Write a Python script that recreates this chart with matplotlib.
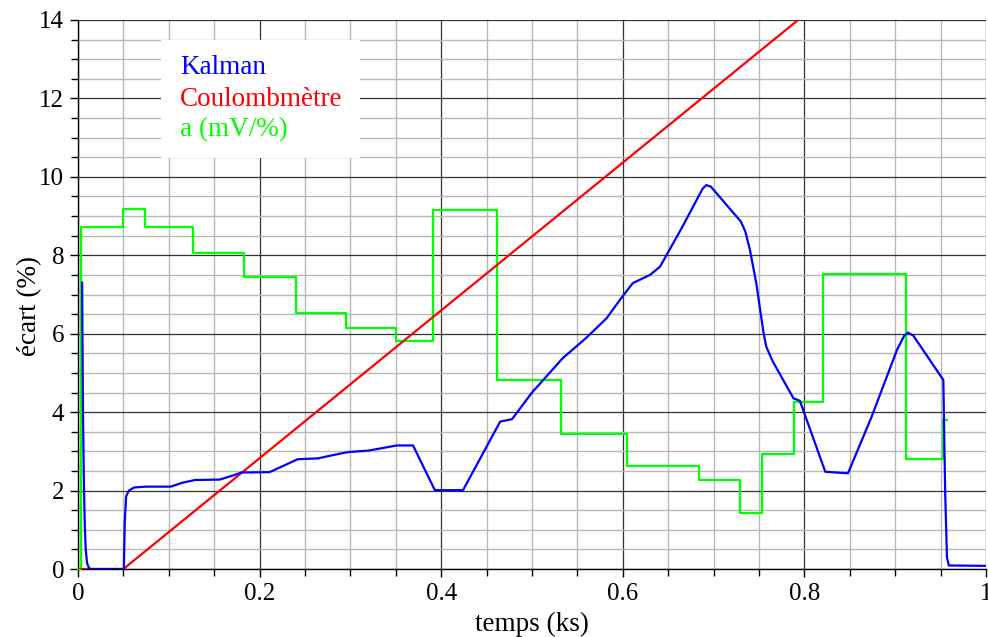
import matplotlib
matplotlib.use("Agg")
import matplotlib.pyplot as plt
from matplotlib.patches import Rectangle
from matplotlib.ticker import MultipleLocator

# ---- data ----
kalman_t = [0.0045, 0.0055, 0.0065, 0.0075, 0.0085, 0.010, 0.012, 0.014, 0.0505, 0.0515, 0.053,
            0.056, 0.062, 0.075, 0.102, 0.115, 0.129, 0.156, 0.170, 0.180, 0.211, 0.228,
            0.242, 0.264, 0.280, 0.297, 0.320, 0.351, 0.369, 0.393, 0.424, 0.465, 0.478,
            0.500, 0.534, 0.560, 0.582, 0.598, 0.611, 0.630, 0.641, 0.665, 0.688, 0.692,
            0.697, 0.730, 0.735, 0.740, 0.747, 0.755, 0.758, 0.765, 0.788, 0.795, 0.823,
            0.848, 0.874, 0.902, 0.910, 0.914, 0.920, 0.953, 0.955, 0.957, 0.959, 1.0]
kalman_v = [7.3, 4.0, 2.2, 1.1, 0.5, 0.15, 0.03, 0.0, 0.0, 1.2, 1.85,
            2.0, 2.08, 2.1, 2.1, 2.2, 2.27, 2.28, 2.38, 2.46, 2.47, 2.65,
            2.80, 2.82, 2.9, 2.98, 3.02, 3.15, 3.15, 2.01, 2.01, 3.76, 3.82,
            4.5, 5.38, 5.9, 6.39, 6.9, 7.29, 7.50, 7.71, 8.7, 9.7, 9.79,
            9.75, 8.86, 8.6, 8.14, 7.29, 6.02, 5.67, 5.3, 4.35, 4.29, 2.48,
            2.44, 3.88, 5.59, 5.95, 6.03, 5.95, 4.82, 2.0, 0.3, 0.09, 0.08]

coul_t = [0.0, 0.05, 1.0]
coul_v = [0.0, 0.0, 17.9]

a_edges = [0.0, 0.003, 0.050, 0.074, 0.127, 0.183, 0.240, 0.295, 0.350, 0.391,
           0.462, 0.532, 0.605, 0.684, 0.729, 0.753, 0.788, 0.821, 0.912, 0.953, 0.957]
a_vals = [0.0, 8.72, 9.17, 8.72, 8.07, 7.45, 6.54, 6.15, 5.82, 9.16,
          4.82, 3.44, 2.63, 2.26, 1.44, 2.92, 4.25, 7.53, 2.81, 3.80]

x_ticks = [0, 0.2, 0.4, 0.6, 0.8, 1.0]
x_labels = ["0", "0.2", "0.4", "0.6", "0.8", "1"]
y_ticks = [0, 2, 4, 6, 8, 10, 12, 14]
y_labels = ["0", "2", "4", "6", "8", "10", "12", "14"]
legend_labels = ["Kalman", "Coulombmètre", "a (mV/%)"]
colors = ["#0000ff", "#ff0000", "#00ff00"]

plt.rcParams['font.family'] = ['Liberation Serif', 'DejaVu Serif']

fig = plt.figure(figsize=(9.88, 6.37), dpi=100)
ax = fig.add_axes([78/988, 1-569/637, (986-78)/988, (569-20)/637])

ax.set_xlim(0, 1)
ax.set_ylim(0, 14)
ax.xaxis.set_minor_locator(MultipleLocator(0.05))
ax.yaxis.set_minor_locator(MultipleLocator(0.5))
ax.set_xticks(x_ticks)
ax.set_xticklabels(x_labels)
ax.set_yticks(y_ticks)
ax.set_yticklabels(y_labels)
ax.grid(which='minor', color='#b8b8b8', lw=1.0, zorder=0)
ax.grid(which='major', color='#333333', lw=0.9, zorder=0)
ax.set_axisbelow(True)
for s in ['top', 'right']:
    ax.spines[s].set_visible(False)
for s in ['left', 'bottom']:
    ax.spines[s].set_color('black')
    ax.spines[s].set_linewidth(1.0)
ax.tick_params(which='major', length=6, width=1, labelsize=18, direction='out', pad=4)
ax.tick_params(which='minor', length=5, width=1, direction='out')

ax.add_patch(Rectangle((161/988, 1-158/637), (360-161)/988, (158-40)/637,
                       transform=fig.transFigure, facecolor='white', edgecolor='none',
                       zorder=1))

xs = list(a_edges)
ys = list(a_vals) + [a_vals[-1]]
ax.step(xs, ys, where='post', color=colors[2], lw=1.6, zorder=3, clip_on=False)
ax.plot(coul_t, coul_v, color=colors[1], lw=1.6, zorder=4)
ax.plot(kalman_t, kalman_v, color=colors[0], lw=1.6, zorder=5)

for i, (lab, c) in enumerate(zip(legend_labels, colors)):
    fig.text(180/988, 1-(68+31*i)/637, lab, color=c, fontsize=19.5, va='center', ha='left')

ax.set_xlabel("temps (ks)", fontsize=19.5, labelpad=5)
ax.set_ylabel("écart (%)", fontsize=19.5)
ax.yaxis.set_label_coords((42-78)/908, 1-(306-20)/549)

fig.savefig("out.png", dpi=100)
